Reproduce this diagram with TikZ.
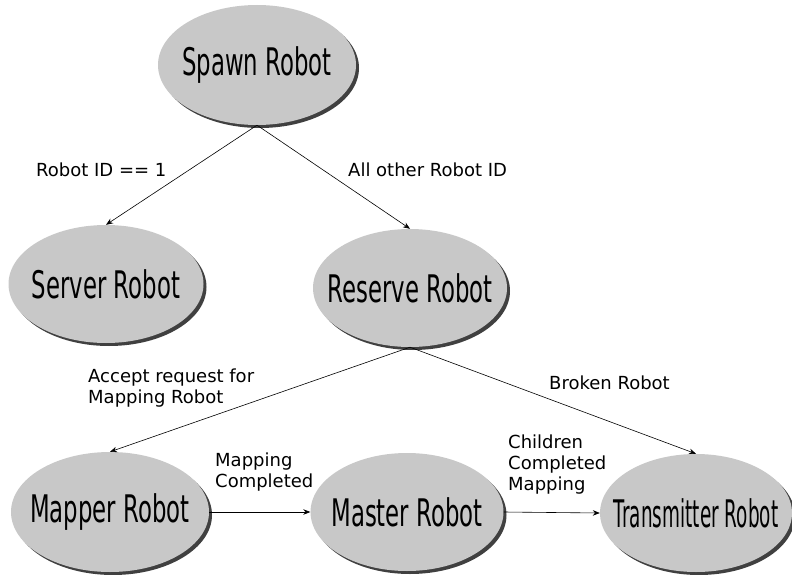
\documentclass[tikz,border=0pt]{standalone}
\usepackage{fontspec}
\setmainfont{DejaVu Sans}
\newfontfamily\robotfont[FakeStretch=0.6]{DejaVu Sans}
\newfontfamily\widerobotfont[FakeStretch=0.485]{DejaVu Sans}
\usepackage{tikz}
\usetikzlibrary{shapes.geometric, shadows, arrows.meta}

\definecolor{robotgray}{RGB}{200,200,200}
\newcommand{\robotname}[2][\robotfont]{\makebox[0pt]{#1\fontsize{38}{40}\selectfont #2}}

\tikzset{
  robot/.style={ellipse, fill=robotgray, inner sep=0pt, minimum width=195pt, minimum height=118pt,
    drop shadow={shadow xshift=3pt, shadow yshift=-3pt, opacity=0.75, fill=black}},
  trans/.style={draw=black, line width=0.6pt, -{Stealth[length=7pt, width=5.5pt]}},
  cond/.style={font=\fontsize{18}{21}\selectfont, inner sep=0pt, align=left, anchor=west}
}

\begin{document}
\begin{tikzpicture}[x=1pt, y=-1pt]
    \useasboundingbox (0, 0) rectangle (792, 575);

    % robot states
    \node[robot, minimum width=198pt, minimum height=120pt] (spawn) at (257, 65) {\robotname{Spawn Robot}};
    \node[robot] (server) at (106, 284) {\robotname{Server Robot}};
    \node[robot, minimum width=194pt] (reserve) at (410, 288) {\robotname{Reserve Robot}};
    \node[robot, minimum width=198pt, minimum height=120pt] (mapper) at (110, 512) {\robotname{Mapper Robot}};
    \node[robot, minimum width=193pt] (master) at (407, 512) {\robotname{Master Robot}};
    \node[robot, minimum width=192pt] (transmitter) at (696, 513) {\robotname[\widerobotfont]{Transmitter Robot}};

    % transitions
    \draw[trans] (spawn.south) -- (server.north);
    \draw[trans] (spawn.south) -- (reserve.north);
    \draw[trans] (reserve.south) -- (mapper.north);
    \draw[trans] (reserve.south) -- (transmitter.north);
    \draw[trans] (mapper.east) -- (master.west);
    \draw[trans] (master.east) -- (transmitter.west);

    % conditions
    \node[cond] (idone) at (36, 170) {Robot ID == 1};
    \node[cond] (idother) at (348, 170) {All other Robot ID};
    \node[cond] (accept) at (88, 388) {Accept request for\\Mapping Robot};
    \node[cond] (broken) at (549, 383) {Broken Robot};
    \node[cond] (mapped) at (215, 472) {Mapping\\Completed};
    \node[cond] (children) at (508, 465) {Children\\Completed\\Mapping};
\end{tikzpicture}
\end{document}
